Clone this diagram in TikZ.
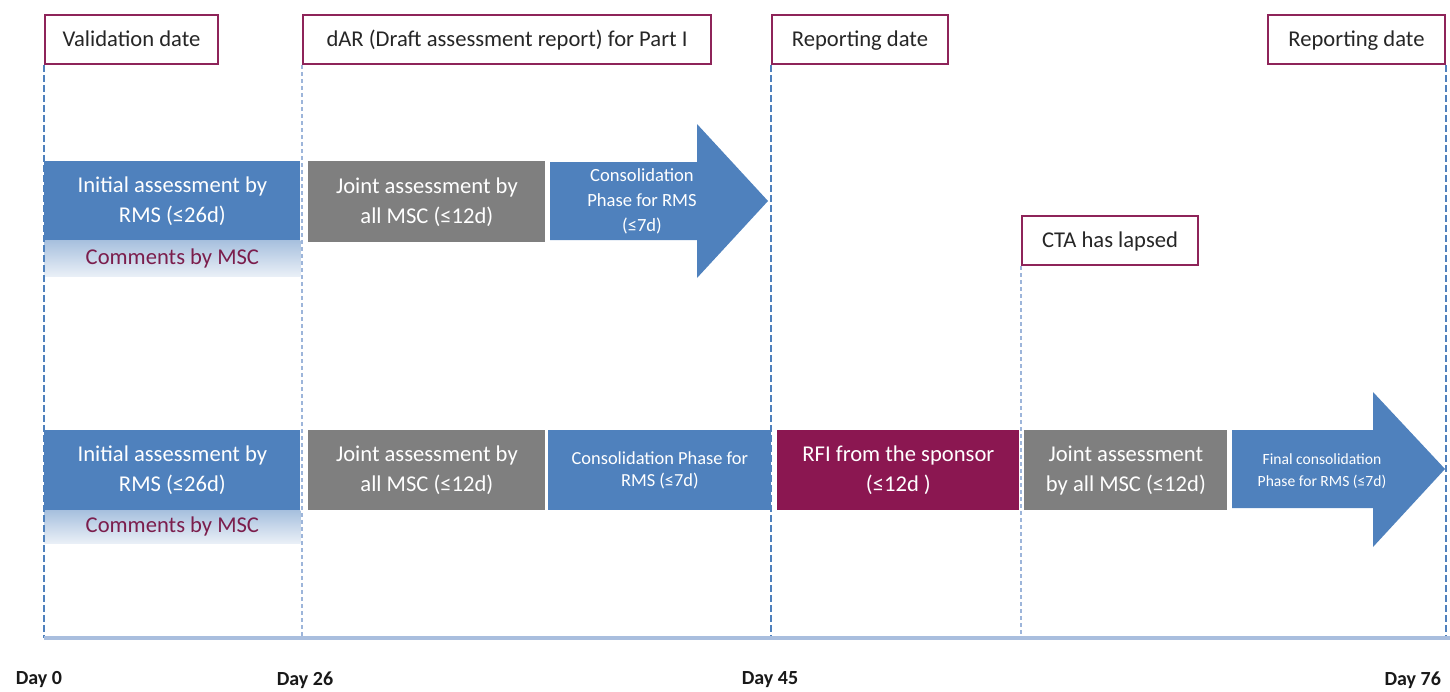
\documentclass[tikz,border=0pt]{standalone}
\usepackage{fontspec}
\setmainfont{Carlito}

\definecolor{rmsblue}{HTML}{4F81BD}
\definecolor{mscgray}{HTML}{7F7F7F}
\definecolor{rfired}{HTML}{8B1751}
\definecolor{tagframe}{HTML}{8E2459}
\definecolor{guidefaint}{HTML}{9DB5DA}
\definecolor{axisblue}{HTML}{A9BEDE}
\definecolor{msctext}{HTML}{7B1D4C}

\tikzset{
  phase/.style={anchor=north west, inner sep=0pt, align=center, text=white,
    font=\fontsize{11.3}{15}\selectfont},
  comments/.style={anchor=north west, inner sep=0pt, text=msctext,
    top color=rmsblue!50, bottom color=rmsblue!12,
    font=\fontsize{11.3}{13}\selectfont},
  tag/.style={anchor=north west, draw=tagframe, line width=1pt, fill=white,
    minimum height=24.5pt, inner sep=0pt, text height=7.3pt, text depth=0pt,
    text=black!85, font=\fontsize{11.3}{13}\selectfont},
  guide/.style={rmsblue, line width=0.8pt, dash pattern=on 3.5pt off 1.5pt},
  guidelight/.style={guidefaint, line width=1.4pt, dash pattern=on 2pt off 1.5pt},
  dayname/.style={font=\fontsize{10}{12}\selectfont\bfseries, text=black!90},
}

\begin{document}
\begin{tikzpicture}[x=0.5pt,y=-0.5pt]
\useasboundingbox (0,0) rectangle (1450,691);

% milestones on top
\node[tag, minimum width=86.5pt] (valid) at (44,14) {Validation date};
\node[tag, minimum width=204pt] (dar) at (302,14) {dAR (Draft assessment report) for Part I};
\node[tag, minimum width=88pt] (report) at (771,14) {Reporting date};
\node[tag, minimum width=88.5pt] (report2) at (1267,14) {Reporting date};
\node[tag, minimum width=88pt] (lapsed) at (1021,215) {CTA has lapsed};

% first track: no RFI
\node[phase, fill=rmsblue, minimum width=128pt, minimum height=39.5pt] (init1) at (44,161)
  {Initial assessment by\\RMS (≤26d)};
\node[comments, minimum width=128pt, minimum height=18pt] (cmt1) at (44,240) {Comments by MSC};
\node[phase, fill=mscgray, minimum width=118.5pt, minimum height=40.5pt] (joint1) at (308,161)
  {Joint assessment by\\all MSC (≤12d)};
\fill[rmsblue] (550,162) -- (697,162) -- (697,124) -- (768,201) -- (697,278)
  -- (697,240) -- (550,240) -- cycle;
\node[phase, anchor=center, font=\fontsize{9.3}{12.5}\selectfont] (cons1) at (642,201)
  {Consolidation\\Phase for RMS\\(≤7d)};

% second track: with RFI
\node[phase, fill=rmsblue, minimum width=128pt, minimum height=40pt] (init2) at (44,430)
  {Initial assessment by\\RMS (≤26d)};
\node[comments, minimum width=128pt, minimum height=16.5pt] (cmt2) at (44,510) {Comments by MSC};
\node[phase, fill=mscgray, minimum width=118.5pt, minimum height=40pt] (joint2) at (308,430)
  {Joint assessment by\\all MSC (≤12d)};
\node[phase, fill=rmsblue, minimum width=111.5pt, minimum height=40pt,
  font=\fontsize{9.2}{11}\selectfont] (cons2) at (548,430)
  {Consolidation Phase for\\RMS (≤7d)};
\node[phase, fill=rfired, minimum width=121pt, minimum height=40pt] (rfi) at (777,430)
  {RFI from the sponsor\\(≤12d )};
\node[phase, fill=mscgray, minimum width=101.5pt, minimum height=40pt] (joint3) at (1024,430)
  {Joint assessment\\by all MSC (≤12d)};
\fill[rmsblue] (1232,430) -- (1373,430) -- (1373,392) -- (1445,469) -- (1373,547)
  -- (1373,508) -- (1232,508) -- cycle;
\node[phase, anchor=center, font=\fontsize{7.8}{11}\selectfont] (final) at (1322,471)
  {Final consolidation\\Phase for RMS (≤7d)};

% time axis
\coordinate (t0) at (44,638);
\coordinate (t26) at (302,638);
\coordinate (t45) at (771,638);
\coordinate (tcta) at (1021,638);
\coordinate (t76) at (1444,638);
\coordinate (tend) at (1450,638);

\draw[guide] (valid.south west) -- (valid.south west |- t0);
\draw[guidelight] (dar.south west) -- (dar.south west |- t26);
\draw[guide] (report.south west) -- (report.south west |- t45);
\draw[guidelight] (lapsed.south west) -- (lapsed.south west |- tcta);
\draw[guide] (report2.south east) -- (report2.south east |- t76);
\draw[axisblue, line width=2pt] (t0) -- (tend);

\node[dayname] (day0) at (39,680) {Day 0};
\node[dayname] (day26) at (305,680) {Day 26};
\node[dayname] (day45) at (770,680) {Day 45};
\node[dayname, anchor=east] (day76) at (1448,680) {Day 76};
\end{tikzpicture}
\end{document}
